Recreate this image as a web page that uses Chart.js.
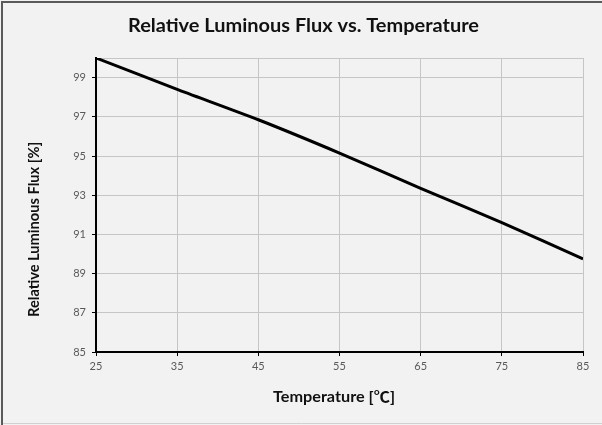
<!DOCTYPE html>
<html>
<head>
<meta charset="utf-8">
<script src="https://cdn.jsdelivr.net/npm/chart.js@4.4.0/dist/chart.umd.min.js"></script>
<style>
  html, body { margin: 0; padding: 0; background: #f2f2f2; }
  #wrap { width: 602px; height: 425px; }
</style>
</head>
<body>
<div id="wrap"><canvas id="fluxChart" width="602" height="425"></canvas></div>
<script>
// data
const temps = [25, 35, 45, 55, 65, 75, 85];
const flux = [100, 98.4, 96.85, 95.15, 93.35, 91.6, 89.75];
const yTicks = [85, 87, 89, 91, 93, 95, 97, 99];
const xTicks = [25, 35, 45, 55, 65, 75, 85];

const chartTitle = 'Relative Luminous Flux vs. Temperature';
const xTitle = 'Temperature [℃]';
const yTitle = 'Relative Luminous Flux [%]';

const fontFam = 'Lato, "Noto Sans CJK SC", sans-serif';

// text stretched to the width it has in the original
function fitText(c, text, x, y, size, width, rot) {
  c.save();
  c.font = 'bold ' + size + 'px ' + fontFam;
  c.textAlign = 'center';
  c.textBaseline = 'middle';
  c.fillStyle = '#111';
  let sx = width / c.measureText(text).width;
  c.translate(x, y);
  if (rot) c.rotate(rot);
  c.scale(sx, 1);
  c.fillText(text, 0, 0);
  c.restore();
}

// background, outer frame, titles
const frame = {
  id: 'frame',
  beforeDraw(chart) {
    const c = chart.ctx;
    c.save();
    c.fillStyle = '#f2f2f2';
    c.fillRect(0, 0, chart.width, chart.height);
    c.strokeStyle = '#d0d0d0';
    c.lineWidth = 1;
    c.beginPath();
    c.moveTo(1, 423.5); c.lineTo(chart.width, 423.5);
    c.stroke();
    c.strokeStyle = '#5a5a5a';
    c.lineWidth = 2;
    c.beginPath();
    c.moveTo(2, chart.height); c.lineTo(2, 2); c.lineTo(chart.width, 2);
    c.stroke();
    c.restore();
  },
  afterDraw(chart) {
    const c = chart.ctx;
    fitText(c, chartTitle, 303.5, 26, 19, 351, 0);
    fitText(c, xTitle, 334, 397, 15, 122, 0);
    fitText(c, yTitle, 34, 229.5, 15, 175, -Math.PI / 2);
  }
};

new Chart(document.getElementById('fluxChart').getContext('2d'), {
  type: 'line',
  data: {
    datasets: [{
      data: temps.map((t, i) => ({ x: t, y: flux[i] })),
      borderColor: '#000',
      borderWidth: 3,
      pointRadius: 0,
      tension: 0.2,
      fill: false
    }]
  },
  options: {
    responsive: false,
    animation: false,
    layout: { padding: { left: 0, right: 19, top: 58, bottom: 0 } },
    plugins: {
      legend: { display: false },
      tooltip: { enabled: false },
      title: { display: false }
    },
    scales: {
      x: {
        type: 'linear',
        min: 25,
        max: 85,
        afterFit(s) { s.height = 73; },
        afterBuildTicks(s) { s.ticks = xTicks.map(v => ({ value: v })); },
        ticks: {
          color: '#595959',
          font: { family: fontFam, size: 11 },
          padding: 4
        },
        grid: { color: '#c6c6c6', tickColor: '#000', tickLength: 4, lineWidth: 1 },
        border: { color: '#000', width: 2 }
      },
      y: {
        type: 'linear',
        min: 85,
        max: 100,
        afterFit(s) { s.width = 96; },
        afterBuildTicks(s) { s.ticks = yTicks.concat([100]).map(v => ({ value: v })); },
        ticks: {
          color: '#595959',
          font: { family: fontFam, size: 11 },
          padding: 6,
          callback: v => (v === 100 ? '' : v)
        },
        grid: {
          color: '#c6c6c6',
          tickColor: ctx => (ctx.tick && ctx.tick.value === 100 ? 'rgba(0,0,0,0)' : '#000'),
          tickLength: 4,
          lineWidth: 1
        },
        border: { color: '#000', width: 2 }
      }
    }
  },
  plugins: [frame]
});
</script>
</body>
</html>
